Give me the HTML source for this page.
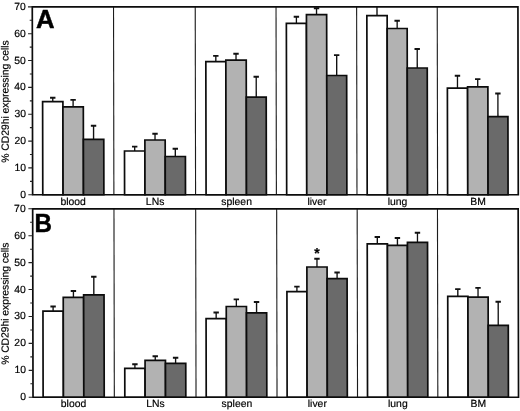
<!DOCTYPE html>
<html lang="en">
<head>
<meta charset="utf-8">
<title>CD29hi expressing cells</title>
<style>
html,body{margin:0;padding:0;background:#fff;}
body{width:520px;height:411px;overflow:hidden;}
svg{display:block;}
svg text{stroke:#000;stroke-width:0.18px;}
svg text.big{stroke-width:0.45px;}
</style>
</head>
<body>
<svg width="520" height="411" viewBox="0 0 520 411" font-family='"Liberation Sans", Arial, Helvetica, sans-serif' font-size="10.4" fill="#000">
<rect x="0" y="0" width="520" height="411" fill="#fff"/>
<g id="panelA" transform="matrix(1,0,0.0019,1,-0.2850,0)">
<line x1="113.8" y1="6.9" x2="113.8" y2="194.75" stroke="#1c1c1c" stroke-width="1.1"/>
<line x1="195.5" y1="6.9" x2="195.5" y2="194.75" stroke="#1c1c1c" stroke-width="1.1"/>
<line x1="276.3" y1="6.9" x2="276.3" y2="194.75" stroke="#1c1c1c" stroke-width="1.1"/>
<line x1="356.9" y1="6.9" x2="356.9" y2="194.75" stroke="#1c1c1c" stroke-width="1.1"/>
<line x1="437.5" y1="6.9" x2="437.5" y2="194.75" stroke="#1c1c1c" stroke-width="1.1"/>
<line x1="52.85" y1="97.8" x2="52.85" y2="101.6" stroke="#111" stroke-width="1.35"/>
<line x1="50.15" y1="97.8" x2="55.55" y2="97.8" stroke="#111" stroke-width="1.9"/>
<line x1="73.20" y1="99.9" x2="73.20" y2="106.8" stroke="#111" stroke-width="1.35"/>
<line x1="70.50" y1="99.9" x2="75.90" y2="99.9" stroke="#111" stroke-width="1.9"/>
<line x1="93.60" y1="125.8" x2="93.60" y2="139.3" stroke="#111" stroke-width="1.35"/>
<line x1="90.90" y1="125.8" x2="96.30" y2="125.8" stroke="#111" stroke-width="1.9"/>
<rect x="42.7" y="101.6" width="20.30" height="93.15" fill="#fff" stroke="#0c0c0c" stroke-width="1.7"/>
<rect x="63.0" y="106.8" width="20.40" height="87.95" fill="#b2b2b2" stroke="#0c0c0c" stroke-width="1.7"/>
<rect x="83.4" y="139.3" width="20.40" height="55.45" fill="#6a6a6a" stroke="#0c0c0c" stroke-width="1.7"/>
<line x1="134.70" y1="146.6" x2="134.70" y2="151.0" stroke="#111" stroke-width="1.35"/>
<line x1="132.00" y1="146.6" x2="137.40" y2="146.6" stroke="#111" stroke-width="1.9"/>
<line x1="155.05" y1="133.7" x2="155.05" y2="140.0" stroke="#111" stroke-width="1.35"/>
<line x1="152.35" y1="133.7" x2="157.75" y2="133.7" stroke="#111" stroke-width="1.9"/>
<line x1="175.30" y1="148.7" x2="175.30" y2="156.5" stroke="#111" stroke-width="1.35"/>
<line x1="172.60" y1="148.7" x2="178.00" y2="148.7" stroke="#111" stroke-width="1.9"/>
<rect x="124.5" y="151.0" width="20.40" height="43.75" fill="#fff" stroke="#0c0c0c" stroke-width="1.7"/>
<rect x="144.9" y="140.0" width="20.30" height="54.75" fill="#b2b2b2" stroke="#0c0c0c" stroke-width="1.7"/>
<rect x="165.2" y="156.5" width="20.20" height="38.25" fill="#6a6a6a" stroke="#0c0c0c" stroke-width="1.7"/>
<line x1="216.00" y1="55.9" x2="216.00" y2="61.6" stroke="#111" stroke-width="1.35"/>
<line x1="213.30" y1="55.9" x2="218.70" y2="55.9" stroke="#111" stroke-width="1.9"/>
<line x1="236.20" y1="53.8" x2="236.20" y2="60.2" stroke="#111" stroke-width="1.35"/>
<line x1="233.50" y1="53.8" x2="238.90" y2="53.8" stroke="#111" stroke-width="1.9"/>
<line x1="256.35" y1="76.7" x2="256.35" y2="97.1" stroke="#111" stroke-width="1.35"/>
<line x1="253.65" y1="76.7" x2="259.05" y2="76.7" stroke="#111" stroke-width="1.9"/>
<rect x="206.0" y="61.6" width="20.00" height="133.15" fill="#fff" stroke="#0c0c0c" stroke-width="1.7"/>
<rect x="226.0" y="60.2" width="20.40" height="134.55" fill="#b2b2b2" stroke="#0c0c0c" stroke-width="1.7"/>
<rect x="246.4" y="97.1" width="19.90" height="97.65" fill="#6a6a6a" stroke="#0c0c0c" stroke-width="1.7"/>
<line x1="296.65" y1="16.8" x2="296.65" y2="23.4" stroke="#111" stroke-width="1.35"/>
<line x1="293.95" y1="16.8" x2="299.35" y2="16.8" stroke="#111" stroke-width="1.9"/>
<line x1="316.80" y1="8.3" x2="316.80" y2="14.7" stroke="#111" stroke-width="1.35"/>
<line x1="314.10" y1="8.3" x2="319.50" y2="8.3" stroke="#111" stroke-width="1.9"/>
<line x1="336.85" y1="55.1" x2="336.85" y2="75.5" stroke="#111" stroke-width="1.35"/>
<line x1="334.15" y1="55.1" x2="339.55" y2="55.1" stroke="#111" stroke-width="1.9"/>
<rect x="286.6" y="23.4" width="20.10" height="171.35" fill="#fff" stroke="#0c0c0c" stroke-width="1.7"/>
<rect x="306.7" y="14.7" width="20.20" height="180.05" fill="#b2b2b2" stroke="#0c0c0c" stroke-width="1.7"/>
<rect x="326.9" y="75.5" width="19.90" height="119.25" fill="#6a6a6a" stroke="#0c0c0c" stroke-width="1.7"/>
<line x1="377.25" y1="6.9" x2="377.25" y2="15.6" stroke="#111" stroke-width="1.35"/>
<line x1="397.40" y1="20.8" x2="397.40" y2="28.5" stroke="#111" stroke-width="1.35"/>
<line x1="394.70" y1="20.8" x2="400.10" y2="20.8" stroke="#111" stroke-width="1.9"/>
<line x1="417.40" y1="49.0" x2="417.40" y2="68.0" stroke="#111" stroke-width="1.35"/>
<line x1="414.70" y1="49.0" x2="420.10" y2="49.0" stroke="#111" stroke-width="1.9"/>
<rect x="367.1" y="15.6" width="20.30" height="179.15" fill="#fff" stroke="#0c0c0c" stroke-width="1.7"/>
<rect x="387.4" y="28.5" width="20.00" height="166.25" fill="#b2b2b2" stroke="#0c0c0c" stroke-width="1.7"/>
<rect x="407.4" y="68.0" width="20.00" height="126.75" fill="#6a6a6a" stroke="#0c0c0c" stroke-width="1.7"/>
<line x1="457.60" y1="75.7" x2="457.60" y2="88.1" stroke="#111" stroke-width="1.35"/>
<line x1="454.90" y1="75.7" x2="460.30" y2="75.7" stroke="#111" stroke-width="1.9"/>
<line x1="477.85" y1="79.1" x2="477.85" y2="86.9" stroke="#111" stroke-width="1.35"/>
<line x1="475.15" y1="79.1" x2="480.55" y2="79.1" stroke="#111" stroke-width="1.9"/>
<line x1="498.00" y1="93.5" x2="498.00" y2="116.7" stroke="#111" stroke-width="1.35"/>
<line x1="495.30" y1="93.5" x2="500.70" y2="93.5" stroke="#111" stroke-width="1.9"/>
<rect x="447.5" y="88.1" width="20.20" height="106.65" fill="#fff" stroke="#0c0c0c" stroke-width="1.7"/>
<rect x="467.7" y="86.9" width="20.30" height="107.85" fill="#b2b2b2" stroke="#0c0c0c" stroke-width="1.7"/>
<rect x="488.0" y="116.7" width="20.00" height="78.05" fill="#6a6a6a" stroke="#0c0c0c" stroke-width="1.7"/>
<rect x="32.55" y="6.9" width="485.65" height="187.85" fill="none" stroke="#0c0c0c" stroke-width="1.7"/>
<line x1="28.25" y1="194.75" x2="32.55" y2="194.75" stroke="#222" stroke-width="1.1"/>
<text x="26.0" y="197.75" text-anchor="end">0</text>
<line x1="29.95" y1="181.33" x2="32.55" y2="181.33" stroke="#222" stroke-width="1.1"/>
<line x1="28.25" y1="167.91" x2="32.55" y2="167.91" stroke="#222" stroke-width="1.1"/>
<text x="26.0" y="170.91" text-anchor="end">10</text>
<line x1="29.95" y1="154.50" x2="32.55" y2="154.50" stroke="#222" stroke-width="1.1"/>
<line x1="28.25" y1="141.08" x2="32.55" y2="141.08" stroke="#222" stroke-width="1.1"/>
<text x="26.0" y="144.08" text-anchor="end">20</text>
<line x1="29.95" y1="127.66" x2="32.55" y2="127.66" stroke="#222" stroke-width="1.1"/>
<line x1="28.25" y1="114.24" x2="32.55" y2="114.24" stroke="#222" stroke-width="1.1"/>
<text x="26.0" y="117.24" text-anchor="end">30</text>
<line x1="29.95" y1="100.83" x2="32.55" y2="100.83" stroke="#222" stroke-width="1.1"/>
<line x1="28.25" y1="87.41" x2="32.55" y2="87.41" stroke="#222" stroke-width="1.1"/>
<text x="26.0" y="90.41" text-anchor="end">40</text>
<line x1="29.95" y1="73.99" x2="32.55" y2="73.99" stroke="#222" stroke-width="1.1"/>
<line x1="28.25" y1="60.57" x2="32.55" y2="60.57" stroke="#222" stroke-width="1.1"/>
<text x="26.0" y="63.57" text-anchor="end">50</text>
<line x1="29.95" y1="47.15" x2="32.55" y2="47.15" stroke="#222" stroke-width="1.1"/>
<line x1="28.25" y1="33.74" x2="32.55" y2="33.74" stroke="#222" stroke-width="1.1"/>
<text x="26.0" y="36.74" text-anchor="end">60</text>
<line x1="29.95" y1="20.32" x2="32.55" y2="20.32" stroke="#222" stroke-width="1.1"/>
<line x1="28.25" y1="6.90" x2="32.55" y2="6.90" stroke="#222" stroke-width="1.1"/>
<text x="26.0" y="9.90" text-anchor="end">70</text>
<text x="73.10" y="204.90" text-anchor="middle">blood</text>
<text x="155.00" y="204.90" text-anchor="middle">LNs</text>
<text x="236.50" y="204.90" text-anchor="middle">spleen</text>
<text x="316.90" y="204.90" text-anchor="middle">liver</text>
<text x="397.40" y="204.90" text-anchor="middle">lung</text>
<text x="477.90" y="204.90" text-anchor="middle">BM</text>
<text transform="translate(8.7,101.53) rotate(-90)" text-anchor="middle" textLength="122.3" lengthAdjust="spacing">% CD29hi expressing cells</text>
</g>
<g id="panelB" transform="matrix(1,0,0.0019,1,-0.7296,0)">
<line x1="114.3" y1="208.8" x2="114.3" y2="397.25" stroke="#1c1c1c" stroke-width="1.1"/>
<line x1="196.0" y1="208.8" x2="196.0" y2="397.25" stroke="#1c1c1c" stroke-width="1.1"/>
<line x1="277.0" y1="208.8" x2="277.0" y2="397.25" stroke="#1c1c1c" stroke-width="1.1"/>
<line x1="357.5" y1="208.8" x2="357.5" y2="397.25" stroke="#1c1c1c" stroke-width="1.1"/>
<line x1="437.8" y1="208.8" x2="437.8" y2="397.25" stroke="#1c1c1c" stroke-width="1.1"/>
<line x1="53.25" y1="306.5" x2="53.25" y2="311.2" stroke="#111" stroke-width="1.35"/>
<line x1="50.55" y1="306.5" x2="55.95" y2="306.5" stroke="#111" stroke-width="1.9"/>
<line x1="73.60" y1="291.0" x2="73.60" y2="297.4" stroke="#111" stroke-width="1.35"/>
<line x1="70.90" y1="291.0" x2="76.30" y2="291.0" stroke="#111" stroke-width="1.9"/>
<line x1="94.00" y1="276.8" x2="94.00" y2="294.8" stroke="#111" stroke-width="1.35"/>
<line x1="91.30" y1="276.8" x2="96.70" y2="276.8" stroke="#111" stroke-width="1.9"/>
<rect x="43.1" y="311.2" width="20.30" height="86.05" fill="#fff" stroke="#0c0c0c" stroke-width="1.7"/>
<rect x="63.4" y="297.4" width="20.40" height="99.85" fill="#b2b2b2" stroke="#0c0c0c" stroke-width="1.7"/>
<rect x="83.8" y="294.8" width="20.40" height="102.45" fill="#6a6a6a" stroke="#0c0c0c" stroke-width="1.7"/>
<line x1="134.95" y1="364.3" x2="134.95" y2="368.4" stroke="#111" stroke-width="1.35"/>
<line x1="132.25" y1="364.3" x2="137.65" y2="364.3" stroke="#111" stroke-width="1.9"/>
<line x1="155.30" y1="356.3" x2="155.30" y2="360.3" stroke="#111" stroke-width="1.35"/>
<line x1="152.60" y1="356.3" x2="158.00" y2="356.3" stroke="#111" stroke-width="1.9"/>
<line x1="175.65" y1="357.7" x2="175.65" y2="363.4" stroke="#111" stroke-width="1.35"/>
<line x1="172.95" y1="357.7" x2="178.35" y2="357.7" stroke="#111" stroke-width="1.9"/>
<rect x="124.8" y="368.4" width="20.30" height="28.85" fill="#fff" stroke="#0c0c0c" stroke-width="1.7"/>
<rect x="145.1" y="360.3" width="20.40" height="36.95" fill="#b2b2b2" stroke="#0c0c0c" stroke-width="1.7"/>
<rect x="165.5" y="363.4" width="20.30" height="33.85" fill="#6a6a6a" stroke="#0c0c0c" stroke-width="1.7"/>
<line x1="216.30" y1="312.5" x2="216.30" y2="318.6" stroke="#111" stroke-width="1.35"/>
<line x1="213.60" y1="312.5" x2="219.00" y2="312.5" stroke="#111" stroke-width="1.9"/>
<line x1="236.50" y1="299.4" x2="236.50" y2="306.5" stroke="#111" stroke-width="1.35"/>
<line x1="233.80" y1="299.4" x2="239.20" y2="299.4" stroke="#111" stroke-width="1.9"/>
<line x1="256.70" y1="302.0" x2="256.70" y2="312.9" stroke="#111" stroke-width="1.35"/>
<line x1="254.00" y1="302.0" x2="259.40" y2="302.0" stroke="#111" stroke-width="1.9"/>
<rect x="206.2" y="318.6" width="20.20" height="78.65" fill="#fff" stroke="#0c0c0c" stroke-width="1.7"/>
<rect x="226.4" y="306.5" width="20.20" height="90.75" fill="#b2b2b2" stroke="#0c0c0c" stroke-width="1.7"/>
<rect x="246.6" y="312.9" width="20.20" height="84.35" fill="#6a6a6a" stroke="#0c0c0c" stroke-width="1.7"/>
<line x1="297.10" y1="286.6" x2="297.10" y2="291.6" stroke="#111" stroke-width="1.35"/>
<line x1="294.40" y1="286.6" x2="299.80" y2="286.6" stroke="#111" stroke-width="1.9"/>
<line x1="317.20" y1="258.7" x2="317.20" y2="267.0" stroke="#111" stroke-width="1.35"/>
<line x1="314.50" y1="258.7" x2="319.90" y2="258.7" stroke="#111" stroke-width="1.9"/>
<line x1="337.30" y1="272.5" x2="337.30" y2="278.6" stroke="#111" stroke-width="1.35"/>
<line x1="334.60" y1="272.5" x2="340.00" y2="272.5" stroke="#111" stroke-width="1.9"/>
<rect x="287.1" y="291.6" width="20.00" height="105.65" fill="#fff" stroke="#0c0c0c" stroke-width="1.7"/>
<rect x="307.1" y="267.0" width="20.20" height="130.25" fill="#b2b2b2" stroke="#0c0c0c" stroke-width="1.7"/>
<rect x="327.3" y="278.6" width="20.00" height="118.65" fill="#6a6a6a" stroke="#0c0c0c" stroke-width="1.7"/>
<line x1="377.60" y1="237.0" x2="377.60" y2="243.9" stroke="#111" stroke-width="1.35"/>
<line x1="374.90" y1="237.0" x2="380.30" y2="237.0" stroke="#111" stroke-width="1.9"/>
<line x1="397.70" y1="238.0" x2="397.70" y2="245.3" stroke="#111" stroke-width="1.35"/>
<line x1="395.00" y1="238.0" x2="400.40" y2="238.0" stroke="#111" stroke-width="1.9"/>
<line x1="417.75" y1="232.8" x2="417.75" y2="242.3" stroke="#111" stroke-width="1.35"/>
<line x1="415.05" y1="232.8" x2="420.45" y2="232.8" stroke="#111" stroke-width="1.9"/>
<rect x="367.5" y="243.9" width="20.20" height="153.35" fill="#fff" stroke="#0c0c0c" stroke-width="1.7"/>
<rect x="387.7" y="245.3" width="20.00" height="151.95" fill="#b2b2b2" stroke="#0c0c0c" stroke-width="1.7"/>
<rect x="407.7" y="242.3" width="20.10" height="154.95" fill="#6a6a6a" stroke="#0c0c0c" stroke-width="1.7"/>
<line x1="458.00" y1="289.1" x2="458.00" y2="296.4" stroke="#111" stroke-width="1.35"/>
<line x1="455.30" y1="289.1" x2="460.70" y2="289.1" stroke="#111" stroke-width="1.9"/>
<line x1="478.20" y1="287.9" x2="478.20" y2="297.2" stroke="#111" stroke-width="1.35"/>
<line x1="475.50" y1="287.9" x2="480.90" y2="287.9" stroke="#111" stroke-width="1.9"/>
<line x1="498.35" y1="301.8" x2="498.35" y2="325.3" stroke="#111" stroke-width="1.35"/>
<line x1="495.65" y1="301.8" x2="501.05" y2="301.8" stroke="#111" stroke-width="1.9"/>
<rect x="447.9" y="296.4" width="20.20" height="100.85" fill="#fff" stroke="#0c0c0c" stroke-width="1.7"/>
<rect x="468.1" y="297.2" width="20.20" height="100.05" fill="#b2b2b2" stroke="#0c0c0c" stroke-width="1.7"/>
<rect x="488.3" y="325.3" width="20.10" height="71.95" fill="#6a6a6a" stroke="#0c0c0c" stroke-width="1.7"/>
<rect x="33.0" y="208.8" width="485.50" height="188.45" fill="none" stroke="#0c0c0c" stroke-width="1.7"/>
<line x1="28.70" y1="397.25" x2="33.0" y2="397.25" stroke="#222" stroke-width="1.1"/>
<text x="26.0" y="400.25" text-anchor="end">0</text>
<line x1="30.40" y1="383.79" x2="33.0" y2="383.79" stroke="#222" stroke-width="1.1"/>
<line x1="28.70" y1="370.33" x2="33.0" y2="370.33" stroke="#222" stroke-width="1.1"/>
<text x="26.0" y="373.33" text-anchor="end">10</text>
<line x1="30.40" y1="356.87" x2="33.0" y2="356.87" stroke="#222" stroke-width="1.1"/>
<line x1="28.70" y1="343.41" x2="33.0" y2="343.41" stroke="#222" stroke-width="1.1"/>
<text x="26.0" y="346.41" text-anchor="end">20</text>
<line x1="30.40" y1="329.95" x2="33.0" y2="329.95" stroke="#222" stroke-width="1.1"/>
<line x1="28.70" y1="316.49" x2="33.0" y2="316.49" stroke="#222" stroke-width="1.1"/>
<text x="26.0" y="319.49" text-anchor="end">30</text>
<line x1="30.40" y1="303.02" x2="33.0" y2="303.02" stroke="#222" stroke-width="1.1"/>
<line x1="28.70" y1="289.56" x2="33.0" y2="289.56" stroke="#222" stroke-width="1.1"/>
<text x="26.0" y="292.56" text-anchor="end">40</text>
<line x1="30.40" y1="276.10" x2="33.0" y2="276.10" stroke="#222" stroke-width="1.1"/>
<line x1="28.70" y1="262.64" x2="33.0" y2="262.64" stroke="#222" stroke-width="1.1"/>
<text x="26.0" y="265.64" text-anchor="end">50</text>
<line x1="30.40" y1="249.18" x2="33.0" y2="249.18" stroke="#222" stroke-width="1.1"/>
<line x1="28.70" y1="235.72" x2="33.0" y2="235.72" stroke="#222" stroke-width="1.1"/>
<text x="26.0" y="238.72" text-anchor="end">60</text>
<line x1="30.40" y1="222.26" x2="33.0" y2="222.26" stroke="#222" stroke-width="1.1"/>
<line x1="28.70" y1="208.80" x2="33.0" y2="208.80" stroke="#222" stroke-width="1.1"/>
<text x="26.0" y="211.80" text-anchor="end">70</text>
<text x="73.50" y="407.40" text-anchor="middle">blood</text>
<text x="155.40" y="407.40" text-anchor="middle">LNs</text>
<text x="236.90" y="407.40" text-anchor="middle">spleen</text>
<text x="317.30" y="407.40" text-anchor="middle">liver</text>
<text x="397.80" y="407.40" text-anchor="middle">lung</text>
<text x="478.30" y="407.40" text-anchor="middle">BM</text>
<text transform="translate(8.7,303.72) rotate(-90)" text-anchor="middle" textLength="122.3" lengthAdjust="spacing">% CD29hi expressing cells</text>
</g>
<text x="36.1" y="27.6" font-size="25.7" font-weight="bold" class="big">A</text>
<text transform="translate(34.5,232.0) scale(0.94,1)" font-size="25.7" font-weight="bold" class="big">B</text>
<text x="317" y="258.1" font-size="14" font-weight="bold" text-anchor="middle" fill="#000">*</text>
</svg>
</body>
</html>
